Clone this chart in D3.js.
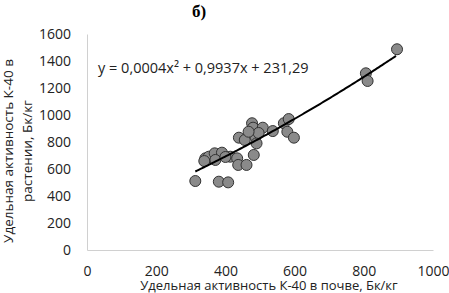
<!DOCTYPE html>
<html>
<head>
<meta charset="utf-8">
<script src="https://cdn.jsdelivr.net/npm/d3@7"></script>
<style>
	body { margin: 0; background: #fff; }
	text { font-family: 'Open Sans', sans-serif; }
</style>
</head>
<body>
<div id="chart"></div>
<script>
const xTicks = [0, 200, 400, 600, 800, 1000];
const yTicks = [0, 200, 400, 600, 800, 1000, 1200, 1400, 1600];

// K-40 in soil (x) vs in plant (y), Bq/kg
const soil = [313, 381, 408, 342, 352, 369, 390, 371, 414, 434, 437, 461, 482, 439, 456, 477,
	480, 487, 490, 508, 537, 569, 583, 579, 598, 496, 467, 896, 806, 811, 339, 400];
const plant = [511, 506, 501, 679, 691, 716, 721, 667, 691, 679, 630, 630, 704, 832, 815, 939,
	906, 839, 790, 906, 881, 939, 970, 876, 832, 867, 876, 1487, 1309, 1252, 659, 689];

const coef = [0.0004, 0.9937, 231.29];
const eqText = 'y = 0,0004x² + 0,9937x + 231,29';

const w = 449;
const h = 293;

const svg = d3.select('#chart').append('svg')
	.attr('width', w)
	.attr('height', h);

const x = d3.scaleLinear().domain([0, 1000]).range([87, 433]);
const y = d3.scaleLinear().domain([0, 1600]).range([250, 34]);

const styleAxis = g => {
	g.select('.domain').attr('stroke', '#d0d0d0');
	g.selectAll('text')
		.attr('font-size', 14)
		.attr('fill', '#222')
		.style('font-family', "'Open Sans', sans-serif");
};

// axes
svg.append('g')
	.attr('transform', 'translate(0,250)')
	.call(d3.axisBottom(x).tickValues(xTicks).tickFormat(d3.format('d')).tickSize(0).tickPadding(16))
	.call(styleAxis);

svg.append('g')
	.attr('transform', 'translate(87,0)')
	.call(d3.axisLeft(y).tickValues(yTicks).tickFormat(d3.format('d')).tickSize(0).tickPadding(16))
	.call(styleAxis);

// trend line
const xs = d3.range(d3.min(soil), d3.max(soil) + 1, 5);
const line = d3.line()
	.x(d => x(d))
	.y(d => y(coef[0] * d * d + coef[1] * d + coef[2]));

// points
svg.append('g')
	.selectAll('circle')
	.data(soil.map((d, i) => [d, plant[i]]))
	.join('circle')
	.attr('cx', d => x(d[0]))
	.attr('cy', d => y(d[1]))
	.attr('r', 5.5)
	.attr('fill', '#8a8a8a')
	.attr('stroke', '#333')
	.attr('stroke-width', 1);

svg.append('path')
	.datum(xs)
	.attr('d', line)
	.attr('fill', 'none')
	.attr('stroke', '#000')
	.attr('stroke-width', 2);

svg.append('text')
	.attr('x', 98)
	.attr('y', 73)
	.attr('font-size', 14.5)
	.attr('fill', '#222')
	.text(eqText);

// titles
svg.append('text')
	.attr('x', 199)
	.attr('y', 17)
	.attr('text-anchor', 'middle')
	.attr('font-size', 17)
	.attr('font-weight', 'bold')
	.style('font-family', "'Liberation Serif', serif")
	.text('б)');

svg.append('text')
	.attr('x', 269)
	.attr('y', 290)
	.attr('text-anchor', 'middle')
	.attr('font-size', 13)
	.attr('fill', '#222')
	.text('Удельная активность К-40 в почве, Бк/кг');

const yTitle = svg.append('text')
	.attr('transform', 'translate(0,151) rotate(-90)')
	.attr('text-anchor', 'middle')
	.attr('font-size', 13.5)
	.attr('fill', '#222');
yTitle.append('tspan').attr('x', 0).attr('y', 13).text('Удельная активность К-40 в');
yTitle.append('tspan').attr('x', 0).attr('y', 32).text('растении, Бк/кг');
</script>
</body>
</html>
